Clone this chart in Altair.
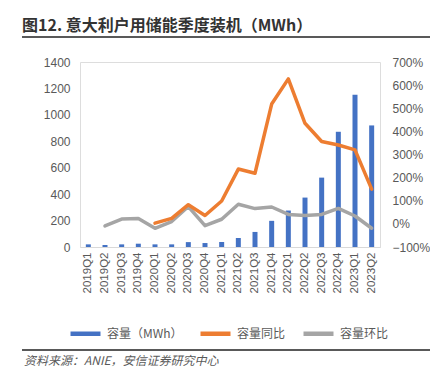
import altair as alt
import pandas as pd

quarters = ["2019Q1", "2019Q2", "2019Q3", "2019Q4", "2020Q1", "2020Q2", "2020Q3", "2020Q4",
            "2021Q1", "2021Q2", "2021Q3", "2021Q4", "2022Q1", "2022Q2", "2022Q3", "2022Q4",
            "2023Q1", "2023Q2"]
capacity = [20, 15, 20, 25, 20, 20, 37, 30, 38, 68, 114, 198, 276, 374, 525, 872, 1153, 920]
yoy = [None, None, None, None, 0.03, 0.24, 0.83, 0.36, 0.99, 2.37, 2.19, 5.18, 6.27, 4.35,
       3.56, 3.41, 3.20, 1.50]
qoq = [None, -0.09, 0.21, 0.23, -0.19, 0.10, 0.75, -0.08, 0.20, 0.85, 0.66, 0.73, 0.41, 0.36,
       0.41, 0.67, 0.34, -0.19]

series_names = ["容量（MWh）", "容量同比", "容量环比"]
series_colors = ["#4472C4", "#ED7D31", "#A5A5A5"]

TITLE = "图12. 意大利户用储能季度装机（MWh）"
SOURCE = "资料来源：ANIE，安信证券研究中心"

CJK = "Noto Sans CJK SC"
LAT = "Liberation Sans"
GREY = "#595959"

bars_df = pd.DataFrame({"q": quarters, "v": capacity, "s": series_names[0]})
rows = []
for q, a, b in zip(quarters, yoy, qoq):
    if a is not None:
        rows.append({"q": q, "r": a, "s": series_names[1]})
    if b is not None:
        rows.append({"q": q, "r": b, "s": series_names[2]})
lines_df = pd.DataFrame(rows)

xenc = alt.X("q:N", sort=quarters,
             scale=alt.Scale(domain=quarters, paddingInner=0, paddingOuter=0),
             axis=alt.Axis(title=None, labelAngle=270, labelFont=LAT, labelFontSize=11.5,
                           labelColor=GREY, ticks=False, domainColor="#D9D9D9",
                           labelPadding=5, labelBaseline="middle", labelAlign="right"))

color = alt.Color("s:N", scale=alt.Scale(domain=series_names, range=series_colors),
                  legend=alt.Legend(title=None, orient="none", direction="horizontal",
                                    legendX=-12, legendY=254, symbolType="stroke",
                                    symbolSize=900, symbolStrokeWidth=4.5,
                                    labelFont=CJK, labelFontSize=12, labelColor=GREY,
                                    labelOffset=4, columnPadding=8))

bars = alt.Chart(bars_df).mark_bar(size=5).encode(
    x=xenc,
    y=alt.Y("v:Q", scale=alt.Scale(domain=[0, 1400]),
            axis=alt.Axis(title=None, values=list(range(0, 1401, 200)), format="d", grid=False,
                          ticks=False, domain=False, labelFont=LAT, labelFontSize=12,
                          labelColor=GREY, labelPadding=10)),
    color=color,
)

lines = alt.Chart(lines_df).mark_line(strokeWidth=3.5, strokeCap="round", strokeJoin="round").encode(
    x=xenc,
    y=alt.Y("r:Q", scale=alt.Scale(domain=[-1, 7]),
            axis=alt.Axis(title=None, orient="right", values=[-1, 0, 1, 2, 3, 4, 5, 6, 7],
                          format=".0%", grid=False, ticks=False, domain=False,
                          labelFont=LAT, labelFontSize=12, labelColor=GREY, labelPadding=12)),
    color=color,
    detail="s:N",
)

one = pd.DataFrame({"a": [0]})
title = alt.Chart(one).mark_text(text=TITLE, align="left", baseline="alphabetic", font=CJK,
                                 fontSize=16, fontWeight="bold", color="#333333").encode(
    x=alt.value(-58), y=alt.value(-31))
rule_top = alt.Chart(one).mark_rule(color=GREY, strokeWidth=2).encode(
    x=alt.value(-58), x2=alt.value(355), y=alt.value(-25))
rule_bot = alt.Chart(one).mark_rule(color=GREY, strokeWidth=2).encode(
    x=alt.value(-58), x2=alt.value(353), y=alt.value(288))
source = alt.Chart(one).mark_text(text=SOURCE, align="left", baseline="middle", font=CJK,
                                  fontSize=12, fontStyle="italic", color=GREY).encode(
    x=alt.value(-56), y=alt.value(299))

chart = alt.layer(bars, lines, title, rule_top, rule_bot, source).resolve_scale(
    y="independent"
).properties(
    width=300, height=185,
    autosize=alt.AutoSizeParams(type="none"),
    padding={"left": 72, "top": 54, "right": 50, "bottom": 129},
).configure_view(stroke=None).configure(background="white")

chart.save("out.html", embed_options={"renderer": "svg", "actions": False})
